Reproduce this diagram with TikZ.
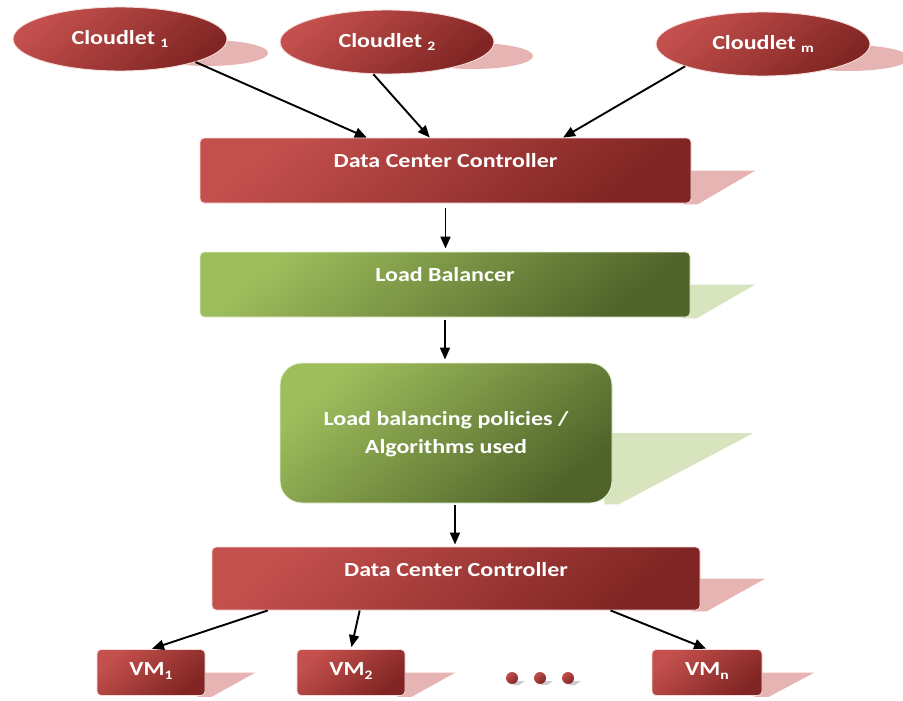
\documentclass[tikz,border=0pt]{standalone}
\usepackage{fontspec}
\setmainfont{Carlito}[FakeStretch=1.2]
\usetikzlibrary{calc,arrows.meta,backgrounds,shapes.geometric}
\definecolor{redL}{RGB}{196,80,77}
\definecolor{redD}{RGB}{128,37,35}
\definecolor{grnL}{RGB}{158,190,92}
\definecolor{grnD}{RGB}{80,100,42}
\definecolor{redSh}{RGB}{230,180,179}
\definecolor{grnSh}{RGB}{215,228,190}
\definecolor{redBd}{RGB}{245,222,220}
\definecolor{grnBd}{RGB}{230,240,215}
\newcommand\lowsub[1]{\raisebox{-0.35ex}{\fontsize{13}{13}\selectfont #1}}
\newcommand\bshadow[3]{\fill[#3] ($(#1.east)+(-8,0)$) -- ($(#1.east)+(#2,0)$) -- ($(#1.south east)+(6,1)$) -- ($(#1.south east)+(-8,1)$) -- cycle;}
\begin{document}
\begin{tikzpicture}[x=1pt,y=-1pt,
  redfill/.style={top color=redL, bottom color=redD, shading angle=40},
  grnfill/.style={top color=grnL, bottom color=grnD, shading angle=40},
  cloudnode/.style={ellipse, redfill, draw=redBd, line width=0.9pt, minimum width=214pt, minimum height=64pt, inner sep=0pt, text=white, font=\fontsize{20}{24}\selectfont\bfseries},
  rbox/.style={rectangle, rounded corners=4pt, redfill, draw=redBd, line width=0.9pt, inner sep=0pt},
  gbox/.style={rectangle, rounded corners=4pt, grnfill, draw=grnBd, line width=0.9pt, inner sep=0pt},
  lbl/.style={text=white, font=\fontsize{20}{28}\selectfont\bfseries, align=center, inner sep=0pt},
  arr/.style={-{Triangle[length=12pt,width=10pt]}, line width=1.9pt, black},
  dotnode/.style={circle, redfill, minimum size=12pt, inner sep=0pt},
]
\useasboundingbox (0,0) rectangle (903,701);

% clouds
\node[cloudnode] (c1) at (120,39) {Cloudlet \lowsub{1}};
\node[cloudnode] (c2) at (387,42) {Cloudlet \lowsub{2}};
\node[cloudnode] (cm) at (763,44) {Cloudlet \lowsub{m}};

% boxes
\node[rbox, minimum width=491pt, minimum height=65pt] (dcc1) at (445.5,170.5) {};
\node[lbl] (tdcc1) at (445.5,161) {Data Center Controller};
\node[gbox, minimum width=490pt, minimum height=65pt] (lb) at (445,284.5) {};
\node[lbl] (tlb) at (445,275) {Load Balancer};
\node[gbox, rounded corners=22pt, minimum width=332pt, minimum height=140pt] (pol) at (446,433) {};
\node[lbl] (tpol) at (446,434) {Load balancing policies /\\Algorithms used};
\node[rbox, minimum width=488pt, minimum height=63pt] (dcc2) at (456,578.5) {};
\node[lbl] (tdcc2) at (456,570) {Data Center Controller};

\node[rbox, minimum width=108pt, minimum height=46pt] (vm1) at (151,672.5) {};
\node[lbl] (tvm1) at (151,671) {VM\lowsub{1}};
\node[rbox, minimum width=108pt, minimum height=46pt] (vm2) at (351,672.5) {};
\node[lbl] (tvm2) at (351,671) {VM\lowsub{2}};
\node[rbox, minimum width=110pt, minimum height=46pt] (vmn) at (707,672.5) {};
\node[lbl] (tvmn) at (707,671) {VM\lowsub{n}};

\node[dotnode] (d1) at (512,678) {};
\node[dotnode] (d2) at (540,678) {};
\node[dotnode] (d3) at (568,678) {};

% shadows
\begin{pgfonlayer}{background}
  \fill[redSh] (208,53) ellipse[x radius=60, y radius=13];
  \fill[redSh] (473,56) ellipse[x radius=60, y radius=13];
  \fill[redSh] (848,58) ellipse[x radius=62, y radius=13];
  \bshadow{dcc1}{64}{redSh}
  \bshadow{lb}{65}{grnSh}
  \bshadow{pol}{141}{grnSh}
  \bshadow{dcc2}{65}{redSh}
  \bshadow{vm1}{50}{redSh}
  \bshadow{vm2}{50}{redSh}
  \bshadow{vmn}{52}{redSh}
  \foreach \d in {d1,d2,d3}{
    \fill[gray!40] ($(\d.center)+(3,3)$) -- ($(\d.center)+(13,3)$) -- ($(\d.center)+(7,7)$) -- ($(\d.center)+(1,7)$) -- cycle;
  }
\end{pgfonlayer}

% connectors
\draw[arr] (c1.-17) -- ($(dcc1.north west)!0.34!(dcc1.north east)$);
\draw[arr] (c2.-113) -- ($(dcc1.north west)!0.468!(dcc1.north east)$);
\draw[arr] (cm.-164) -- ($(dcc1.north west)!0.739!(dcc1.north east)$);
\draw[arr, shorten <=5pt, shorten >=3pt] (dcc1.south) -- (dcc1.south |- lb.north);
\draw[arr, shorten <=3pt, shorten >=3pt] (lb.south) -- (lb.south |- pol.north);
\draw[arr, shorten <=2pt, shorten >=2pt] ([xshift=9pt]pol.south) -- ([xshift=9pt]pol.south |- dcc2.north);
\draw[arr, shorten >=1pt] ($(dcc2.south west)!0.115!(dcc2.south east)$) -- (vm1.north);
\draw[arr, shorten >=2pt] ($(dcc2.south west)!0.303!(dcc2.south east)$) -- (vm2.north);
\draw[arr, shorten >=1pt] ($(dcc2.south west)!0.816!(dcc2.south east)$) -- (vmn.north);
\end{tikzpicture}
\end{document}
